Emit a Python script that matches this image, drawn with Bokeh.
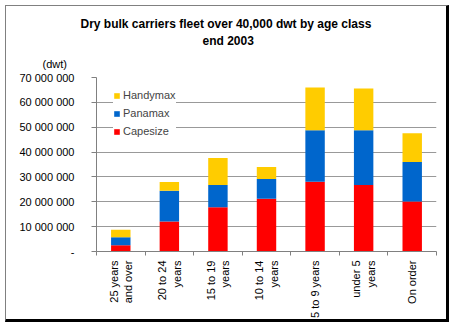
import math
from bokeh.plotting import figure
from bokeh.models import (ColumnDataSource, FixedTicker, Legend, LegendItem, Title, Range1d)
from bokeh.embed import file_html
from bokeh.resources import INLINE

categories = ["25 years\nand over", "20 to 24\nyears", "15 to 19\nyears", "10 to 14\nyears",
              "5 to 9 years", "under 5\nyears", "On order"]
capesize = [2.5e6, 12.1e6, 17.8e6, 21.2e6, 28.1e6, 26.8e6, 20.1e6]
panamax = [3.2e6, 12.3e6, 9.0e6, 8.0e6, 20.7e6, 22.0e6, 15.9e6]
handymax = [3.1e6, 3.6e6, 10.8e6, 4.8e6, 17.2e6, 16.8e6, 11.6e6]
series = ["Capesize", "Panamax", "Handymax"]
colors = ["#FF0000", "#0066CC", "#FFCC00"]
y_ticks = [0, 10e6, 20e6, 30e6, 40e6, 50e6, 60e6, 70e6]
y_tick_labels = ["-", "10 000 000", "20 000 000", "30 000 000", "40 000 000",
                 "50 000 000", "60 000 000", "70 000 000"]
title_line1 = "Dry bulk carriers fleet over 40,000 dwt by age class"
title_line2 = "end 2003"
unit_label = "(dwt)"

FONT = "Liberation Sans"
xs = list(range(len(categories)))
source = ColumnDataSource(dict(x=xs, Capesize=capesize, Panamax=panamax, Handymax=handymax))

p = figure(width=444, height=317, output_backend="svg", toolbar_location=None, title=None,
           x_range=Range1d(-0.5, len(categories) - 0.5), y_range=Range1d(0, 70e6),
           min_border_left=90, min_border_right=14, min_border_top=71, min_border_bottom=72,
           margin=(5, 0, 0, 5))
p.styles = {"border-top": "1px solid #808080", "border-left": "1px solid #808080",
            "border-right": "3px solid #000000", "border-bottom": "3px solid #000000"}
p.outline_line_color = None
p.background_fill_color = "white"
p.border_fill_color = "white"

renderers = p.vbar_stack(series, x="x", width=0.4, color=colors, source=source, line_color=None)

# axes
p.yaxis.ticker = FixedTicker(ticks=y_ticks)
p.yaxis.major_label_overrides = {t: l for t, l in zip(y_ticks, y_tick_labels)}
p.yaxis.minor_tick_line_color = None
p.yaxis.major_tick_out = 5
p.yaxis.major_tick_in = 0
p.yaxis.axis_line_color = "#808080"
p.yaxis.major_tick_line_color = "#808080"
p.yaxis.major_label_text_font = FONT
p.yaxis.major_label_text_font_size = "11px"
p.yaxis.major_label_text_color = "black"
p.yaxis.major_label_standoff = 17

p.xaxis.ticker = FixedTicker(ticks=xs, minor_ticks=[i - 0.5 for i in range(len(categories) + 1)])
p.xaxis.major_label_overrides = {i: c for i, c in zip(xs, categories)}
p.xaxis.major_tick_out = 0
p.xaxis.major_tick_in = 0
p.xaxis.minor_tick_out = 4
p.xaxis.minor_tick_in = 0
p.xaxis.minor_tick_line_color = "#808080"
p.xaxis.axis_line_color = "#808080"
p.xaxis.major_label_orientation = math.pi / 2
p.xaxis.major_label_text_font = FONT
p.xaxis.major_label_text_font_size = "11px"
p.xaxis.major_label_text_color = "black"
p.xaxis.major_label_standoff = 5

p.xgrid.grid_line_color = None
p.ygrid.ticker = FixedTicker(ticks=y_ticks)
p.ygrid.grid_line_color = "#999999"

legend = Legend(items=[LegendItem(label=s, renderers=[r]) for s, r in zip(series[::-1], renderers[::-1])],
                location=(17, 114), margin=0, padding=14, spacing=6,
                glyph_width=7, glyph_height=7, label_height=8, label_standoff=3,
                label_text_font=FONT, label_text_font_size="11px",
                border_line_color=None, background_fill_color="white", background_fill_alpha=1)
p.add_layout(legend)

# titles stacked above the frame (first added = closest to the frame)
p.add_layout(Title(text=unit_label, align="left", offset=-54, standoff=15,
                   text_font=FONT, text_font_size="11px", text_font_style="normal",
                   text_color="black"), "above")
p.add_layout(Title(text=title_line2, align="left", offset=106, standoff=2,
                   text_font=FONT, text_font_size="12px", text_font_style="bold",
                   text_color="black"), "above")
p.add_layout(Title(text=title_line1, align="left", offset=-16, standoff=0,
                   text_font=FONT, text_font_size="12px", text_font_style="bold",
                   text_color="black"), "above")

open("out.html", "w").write(file_html(p, INLINE))
